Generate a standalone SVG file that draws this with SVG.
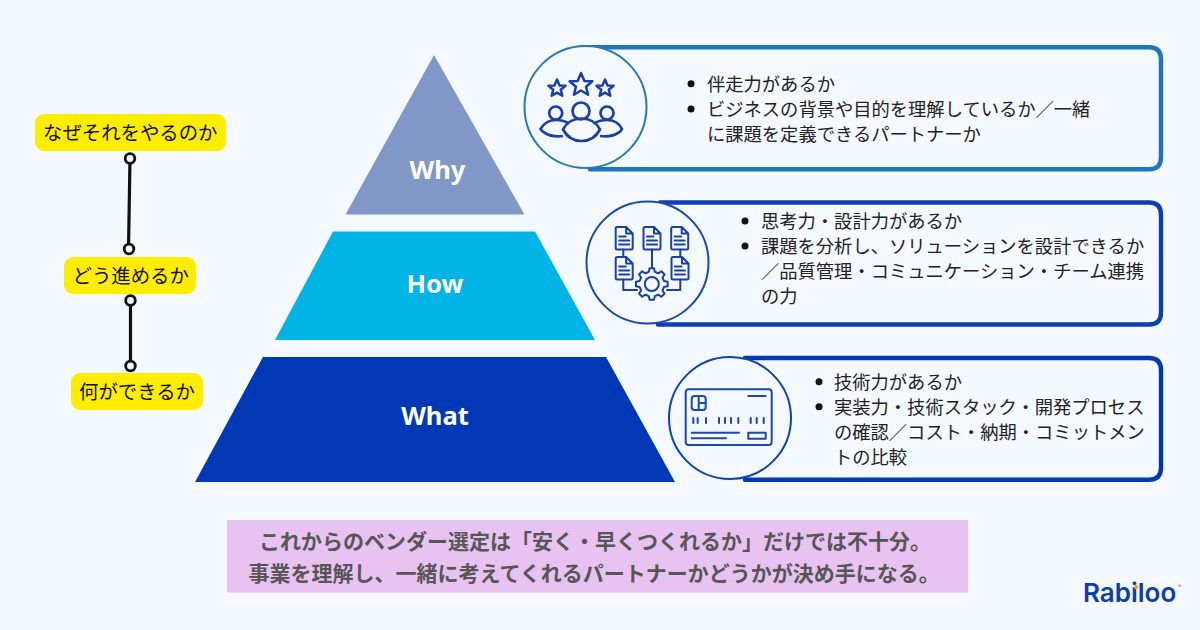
<svg xmlns="http://www.w3.org/2000/svg" width="1200" height="630" viewBox="0 0 1200 630">
<defs>
<style>
text{font-family:"Noto Sans CJK JP","Noto Sans",sans-serif}
.b{font-size:18.3px;fill:#222}
.y{font-size:19.4px;fill:#111}
.p{font-family:"Noto Sans","Open Sans",sans-serif;font-size:25.500px;font-weight:700;fill:#fff;text-anchor:middle}
.m{font-size:21px;font-weight:700;fill:#565656}
.box{fill:#f4f8ff;stroke-width:4.400;stroke-linecap:round}
.c{fill:#f4f8ff;stroke-width:2}
.i1{fill:none;stroke:#1a40a8;stroke-width:2;stroke-linejoin:round;stroke-linecap:round}
.pill{fill:#ffed00}
.k{stroke:#111;stroke-width:3.200;fill:none}
.d{fill:#f4f8ff;stroke:#111;stroke-width:2.800}
</style>
<g id="doc"><path class="i1" d="M0 1.500Q0 0 1.500 0H10.500L17 6.500V21Q17 22.500 15.500 22.500H1.500Q0 22.500 0 21ZM10.500 0V6.500H17M3.500 9.500H10M3.500 13.500H13.500M3.500 17.500H13.500"/></g>
<polygon id="star" points="0,-1 0.28,-0.34 0.95,-0.31 0.42,0.14 0.59,0.81 0,0.46 -0.59,0.81 -0.42,0.14 -0.95,-0.31 -0.28,-0.34"/>
</defs>
<rect width="1200" height="630" fill="#f4f8ff"/>

<g id="pyramid-why"><polygon points="434,55 524.500,214.500 345.500,214.500" fill="#8097c7"/><text class="p" x="437.500" y="179">Why</text></g>
<g id="pyramid-how"><polygon points="333,231.500 535,231.500 595,340 275,340" fill="#00b4e6"/><text class="p" x="435" y="293">How</text></g>
<g id="pyramid-what"><polygon points="263,357 606,357 675,482 195,482" fill="#0038b5"/><text class="p" x="435" y="425">What</text></g>

<g id="connectors">
<line class="k" x1="130" y1="158" x2="128.500" y2="249"/>
<line class="k" x1="130.500" y1="300" x2="130.500" y2="366"/>
<circle class="d" cx="130" cy="158.500" r="4.800"/>
<circle class="d" cx="129" cy="249" r="4.800"/>
<circle class="d" cx="130.500" cy="300.500" r="4.800"/>
<circle class="d" cx="130.500" cy="366" r="4.800"/>
</g>
<g id="label-why"><rect class="pill" x="35" y="114" width="191" height="37" rx="9"/><text class="y" x="43" y="139.500">なぜそれをやるのか</text></g>
<g id="label-how"><rect class="pill" x="64" y="257" width="132" height="37" rx="9"/><text class="y" x="72.500" y="282.500">どう進めるか</text></g>
<g id="label-what"><rect class="pill" x="71" y="373" width="132" height="37" rx="9"/><text class="y" x="79" y="398.500">何ができるか</text></g>

<g id="card-why">
<path class="box" stroke="#1f74bb" d="M582 47.300H1149Q1161 47.300 1161 59.300V157.300Q1161 169.300 1149 169.300H590"/>
<circle class="c" stroke="#2a78b8" cx="585.500" cy="107" r="61"/>
<g fill="none" stroke="#1a40a8" stroke-width="2.700" stroke-linejoin="round">
<use href="#star" transform="translate(581,85) scale(12)" style="stroke-width:.21"/>
<use href="#star" transform="translate(557,88.500) scale(9)" style="stroke-width:.28"/>
<use href="#star" transform="translate(605,88.500) scale(9)" style="stroke-width:.28"/>
<circle cx="555.700" cy="113" r="6.500"/><circle cx="581" cy="111" r="8.500"/><circle cx="607" cy="113" r="6.500"/>
<path d="M563 129.500C567 122 574 118.500 581.500 118.500S596 122 600 129.500C596 137 589 141 581.500 141S567 137 563 129.500Z"/>
<path d="M563 136Q552 137.500 545 133Q542 131.500 540.500 129C544 123 550 120 556 120Q563 120 568 123"/>
<path d="M600 136Q611 137.500 618 133Q621 131.500 622 129C619 123 613 120 607 120Q600 120 595 123"/>
</g>
<circle cx="691" cy="83.700" r="3.500" fill="#111"/><circle cx="691" cy="109" r="3.500" fill="#111"/>
<text class="b" x="707" y="90.500">伴走力があるか</text>
<text class="b" x="707" y="115.500">ビジネスの背景や目的を理解しているか／一緒</text>
<text class="b" x="707" y="140.500">に課題を定義できるパートナーか</text>
</g>

<g id="card-how">
<path class="box" stroke="#0a3fb5" d="M660 202.500H1149Q1161 202.500 1161 214.500V312.500Q1161 324.500 1149 324.500H658"/>
<circle class="c" stroke="#1a48ad" cx="647.500" cy="262.500" r="61"/>
<use href="#doc" x="615.700" y="227"/><use href="#doc" x="643.500" y="227"/><use href="#doc" x="671.200" y="227"/>
<use href="#doc" x="615.700" y="257"/><use href="#doc" x="671.500" y="257"/>
<path class="i1" d="M623.300 249.500V257M623.300 279.500V290H637M652 249.500V267M680.300 249.500V257M680.300 279.500V290H667"/>
<path class="i1" transform="translate(651.800,284)" d="M-3.020 -12.130L-2.230 -15.840L2.230 -15.840L3.020 -12.130L6.440 -10.710L9.620 -12.780L12.780 -9.620L10.710 -6.440L12.130 -3.020L15.840 -2.230L15.840 2.230L12.130 3.020L10.710 6.440L12.780 9.620L9.620 12.780L6.440 10.710L3.020 12.130L2.230 15.840L-2.230 15.840L-3.020 12.130L-6.440 10.710L-9.620 12.780L-12.780 9.620L-10.710 6.440L-12.130 3.020L-15.840 2.230L-15.840 -2.230L-12.130 -3.020L-10.710 -6.440L-12.780 -9.620L-9.620 -12.780L-6.440 -10.710Z"/>
<circle class="i1" cx="651.800" cy="284" r="7"/>
<circle cx="745" cy="221" r="3.500" fill="#111"/><circle cx="745" cy="246" r="3.500" fill="#111"/>
<text class="b" x="761" y="228">思考力・設計力があるか</text>
<text class="b" x="761" y="253">課題を分析し、ソリューションを設計できるか</text>
<text class="b" x="761" y="278">／品質管理・コミュニケーション・チーム連携</text>
<text class="b" x="761" y="303">の力</text>
</g>

<g id="card-what">
<path class="box" stroke="#0038b5" d="M745 358H1149Q1161 358 1161 370V467.700Q1161 479.700 1149 479.700H745"/>
<circle class="c" stroke="#0b43b3" cx="730" cy="418" r="61"/>
<g class="i1" style="stroke:#1a48ad">
<rect x="685.700" y="389.300" width="86" height="55.700" rx="3"/>
<rect x="691.700" y="396" width="14" height="14" rx="3"/>
<path d="M698.700 396V410M698.700 403H705.700M748.300 396H765.700M693.300 418V423M697.700 418V423M706 418V423M719 418V423M725 418V423M731 418V423M738.300 418V423M750.700 418V423M756.700 418V423M763.700 418V423M691.700 432.700H739M691.700 438.300H726"/>
<rect x="748.300" y="432.700" width="17.400" height="6"/>
</g>
<circle cx="819" cy="381.700" r="3.500" fill="#111"/><circle cx="819" cy="406.700" r="3.500" fill="#111"/>
<text class="b" x="834" y="388.500">技術力があるか</text>
<text class="b" x="834" y="413.500">実装力・技術スタック・開発プロセス</text>
<text class="b" x="834" y="438.500">の確認／コスト・納期・コミットメン</text>
<text class="b" x="834" y="463.500">トの比較</text>
</g>

<g id="summary">
<rect x="227" y="520" width="741" height="72.500" fill="#e8c2f0"/>
<text class="m" x="259" y="549">これからのベンダー選定は「安く・早くつくれるか」だけでは不十分。</text>
<text class="m" x="248.500" y="581">事業を理解し、一緒に考えてくれるパートナーかどうかが決め手になる。</text>
</g>

<g id="logo">
<text x="1083" y="602" font-size="26" font-weight="600" fill="#0b3fa8" style="font-family:Inter,'Noto Sans',sans-serif">Rabiloo</text>
<circle cx="1136" cy="587" r="2.200" fill="#f5a623"/>
<text x="1178" y="588" font-size="5" fill="#6a7ba8" style="font-family:Inter,'Noto Sans',sans-serif">®</text>
</g>
</svg>
